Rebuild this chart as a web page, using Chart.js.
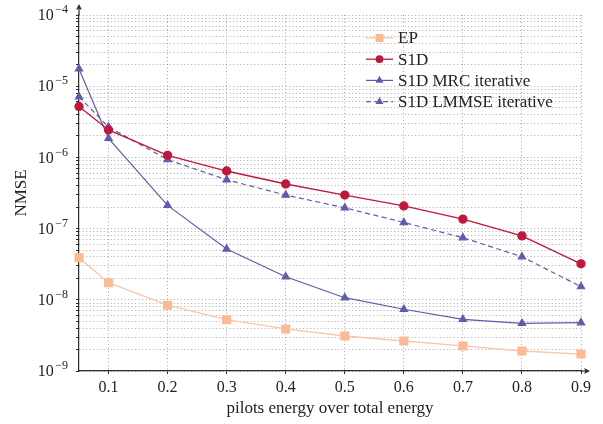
<!DOCTYPE html>
<html>
<head>
<meta charset="utf-8">
<script src="https://cdn.jsdelivr.net/npm/chart.js@4.4.1/dist/chart.umd.min.js"></script>
<style>
  html, body { margin: 0; padding: 0; background: #fff; }
</style>
</head>
<body>
<canvas id="nmse-chart" width="603" height="424"></canvas>
<script>
// pilots energy share (x) and the four NMSE curves (y, log scale)
const pilotShare = [0.05, 0.1, 0.2, 0.3, 0.4, 0.5, 0.6, 0.7, 0.8, 0.9];
const xTicks = [0.1, 0.2, 0.3, 0.4, 0.5, 0.6, 0.7, 0.8, 0.9];
const yDecades = [1e-9, 1e-8, 1e-7, 1e-6, 1e-5, 1e-4];

const epNmse = [3.9e-8, 1.74e-8, 8.4e-9, 5.25e-9, 3.9e-9, 3.1e-9, 2.64e-9, 2.25e-9, 1.91e-9, 1.73e-9];
const s1dNmse = [5.2e-6, 2.43e-6, 1.07e-6, 6.44e-7, 4.23e-7, 2.96e-7, 2.08e-7, 1.36e-7, 7.9e-8, 3.2e-8];
const mrcNmse = [1.75e-5, 1.85e-6, 2.12e-7, 5.17e-8, 2.11e-8, 1.07e-8, 7.36e-9, 5.32e-9, 4.68e-9, 4.77e-9];
const lmmseNmse = [7.1e-6, 2.68e-6, 9.3e-7, 4.85e-7, 2.96e-7, 1.96e-7, 1.22e-7, 7.45e-8, 4.03e-8, 1.53e-8];

const seriesNames = ['EP', 'S1D', 'S1D MRC iterative', 'S1D LMMSE iterative'];

// minor ticks 1..9 in each decade, for the dotted grid
const yTickValues = [];
yDecades.forEach((d, i) => {
  if (i === yDecades.length - 1) { yTickValues.push(d); return; }
  for (let k = 1; k <= 9; k++) yTickValues.push(k * d);
});

const toPoints = (ys) => ys.map((y, i) => ({ x: pilotShare[i], y: y }));

const serif = "'Liberation Serif', 'DejaVu Serif', serif";
Chart.defaults.font.family = serif;
Chart.defaults.font.size = 16;
Chart.defaults.color = '#222';

const gridColor = 'rgba(140,140,140,0.75)';
const axisColor = '#2b2b2b';

const peach = '#fbb995';
const peachLine = '#fcc6a6';
const crimson = '#c0173f';
const slate = '#5d5dab';

const data = {
  datasets: [
    {
      label: seriesNames[0],
      data: toPoints(epNmse),
      borderColor: peachLine,
      backgroundColor: peach,
      pointBackgroundColor: peach,
      pointBorderColor: peach,
      pointStyle: 'rect',
      pointRadius: 5.5,
      borderWidth: 1.3,
      clip: false
    },
    {
      label: seriesNames[1],
      data: toPoints(s1dNmse),
      borderColor: crimson,
      backgroundColor: crimson,
      pointBackgroundColor: crimson,
      pointBorderColor: crimson,
      pointStyle: 'circle',
      pointRadius: 4,
      borderWidth: 1.3,
      clip: false
    },
    {
      label: seriesNames[2],
      data: toPoints(mrcNmse),
      borderColor: slate,
      backgroundColor: slate,
      pointBackgroundColor: slate,
      pointBorderColor: slate,
      pointStyle: 'triangle',
      pointRadius: 4.2,
      borderWidth: 1.2,
      clip: false
    },
    {
      label: seriesNames[3],
      data: toPoints(lmmseNmse),
      borderColor: slate,
      backgroundColor: slate,
      pointBackgroundColor: slate,
      pointBorderColor: slate,
      pointStyle: 'triangle',
      pointRadius: 4.2,
      borderWidth: 1.2,
      borderDash: [5, 3.5],
      clip: false
    }
  ]
};

// y labels as 10^n, axis arrows and the legend inside the plot
const axisDecor = {
  id: 'axisDecor',
  afterDraw(chart) {
    const { ctx, chartArea, scales } = chart;
    const yScale = scales.y;
    ctx.save();

    // y tick labels
    ctx.fillStyle = '#222';
    ctx.textBaseline = 'middle';
    ctx.textAlign = 'left';
    yDecades.forEach((v) => {
      const y = yScale.getPixelForValue(v);
      const exp = '\u2212' + Math.round(-Math.log10(v));
      ctx.font = '12px ' + serif;
      const wSup = ctx.measureText(exp).width;
      ctx.font = '16px ' + serif;
      const wBase = ctx.measureText('10').width;
      const right = chartArea.left - 11;
      ctx.fillText('10', right - wSup - wBase - 1.5, y + 1);
      ctx.font = '12px ' + serif;
      ctx.fillText(exp, right - wSup, y - 5);
    });

    // axis arrows
    ctx.strokeStyle = axisColor;
    ctx.fillStyle = axisColor;
    ctx.lineWidth = 1.2;
    const l = chartArea.left, b = chartArea.bottom;
    ctx.beginPath();
    ctx.moveTo(l, chartArea.top);
    ctx.lineTo(l, chartArea.top - 8);
    ctx.stroke();
    ctx.beginPath();
    ctx.moveTo(l, chartArea.top - 11);
    ctx.lineTo(l - 3, chartArea.top - 5);
    ctx.lineTo(l, chartArea.top - 6.5);
    ctx.lineTo(l + 3, chartArea.top - 5);
    ctx.closePath();
    ctx.fill();

    ctx.beginPath();
    ctx.moveTo(chartArea.right, b);
    ctx.lineTo(chartArea.right + 6, b);
    ctx.stroke();
    ctx.beginPath();
    ctx.moveTo(chartArea.right + 9, b);
    ctx.lineTo(chartArea.right + 3, b - 3);
    ctx.lineTo(chartArea.right + 4.5, b);
    ctx.lineTo(chartArea.right + 3, b + 3);
    ctx.closePath();
    ctx.fill();

    // legend
    const lx = 366, ly = 38, rowGap = 21.2;
    chart.data.datasets.forEach((ds, i) => {
      const y = ly + i * rowGap;
      ctx.strokeStyle = ds.borderColor;
      ctx.lineWidth = ds.borderWidth;
      ctx.setLineDash(ds.borderDash || []);
      ctx.beginPath();
      ctx.moveTo(lx, y);
      ctx.lineTo(lx + 27, y);
      ctx.stroke();
      ctx.setLineDash([]);
      ctx.fillStyle = ds.pointBackgroundColor;
      ctx.strokeStyle = ds.pointBorderColor;
      Chart.helpers.drawPoint(ctx, {
        pointStyle: ds.pointStyle,
        radius: ds.pointRadius - 0.8,
        rotation: 0,
        borderWidth: 1
      }, lx + 13.5, y);
      ctx.fillStyle = '#222';
      ctx.font = '17px ' + serif;
      ctx.textBaseline = 'middle';
      ctx.textAlign = 'left';
      ctx.fillText(ds.label, lx + 32, y + 1);
    });

    ctx.restore();
  }
};

const config = {
  type: 'line',
  data: data,
  options: {
    responsive: false,
    animation: false,
    layout: {
      padding: { top: 15, right: 22, bottom: 0, left: 0 }
    },
    elements: {
      line: { tension: 0 }
    },
    plugins: {
      legend: { display: false },
      tooltip: { enabled: false }
    },
    scales: {
      x: {
        type: 'linear',
        min: 0.05,
        max: 0.9,
        afterBuildTicks: (scale) => {
          scale.ticks = xTicks.map(v => ({ value: v }));
        },
        afterFit: (scale) => { scale.height = 53; },
        ticks: {
          padding: 4,
          callback: (v) => v.toFixed(1)
        },
        grid: {
          color: gridColor,
          tickColor: axisColor,
          tickLength: 3
        },
        border: { display: true, color: axisColor, width: 1.2, dash: [1, 2.5] },
        title: {
          display: true,
          text: 'pilots energy over total energy',
          font: { size: 17 },
          padding: { top: 0, bottom: 5 }
        }
      },
      y: {
        type: 'logarithmic',
        min: 1e-9,
        max: 1e-4,
        afterBuildTicks: (scale) => {
          scale.ticks = yTickValues.map(v => ({ value: v }));
        },
        afterFit: (scale) => { scale.width = 79; },
        ticks: { display: false },
        grid: {
          color: gridColor,
          tickColor: axisColor,
          tickLength: 3
        },
        border: { display: true, color: axisColor, width: 1.2, dash: [1, 2.5] },
        title: {
          display: true,
          text: 'NMSE',
          font: { size: 17 },
          padding: { top: 11, bottom: 0 }
        }
      }
    }
  },
  plugins: [axisDecor]
};

const nmseChart = new Chart(
  document.getElementById('nmse-chart').getContext('2d'),
  config
);
</script>
</body>
</html>
